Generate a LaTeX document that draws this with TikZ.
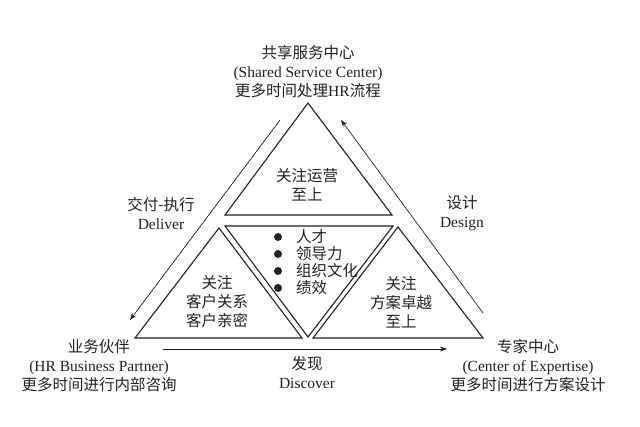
\documentclass[tikz,border=0pt]{standalone}
\usepackage{fontspec}
\setmainfont{Liberation Serif}
\newfontfamily\cjk{Noto Sans CJK SC}
\usetikzlibrary{arrows.meta}
\definecolor{ink}{HTML}{222222}
\begin{document}
\begin{tikzpicture}[x=1pt,y=-1pt,
  tri/.style={draw=ink,line width=1.1pt,line join=miter},
  arr/.style={draw=ink,line width=0.7pt,-{Stealth[length=7pt,width=5pt]}},
  lbl/.style={font=\fontsize{15.5}{19}\selectfont,align=center,inner sep=0pt,text=ink},
  bul/.style={circle,fill=ink,inner sep=0pt,minimum size=8pt},
  btxt/.style={font=\fontsize{15.5}{19}\selectfont\cjk,anchor=west,inner sep=0pt,text=ink}]
\useasboundingbox (0,0) rectangle (640,427);
\fill[white] (0,0) rectangle (640,427);

% triangles
\draw[tri] (308,103) -- (392,215) -- (225,215) -- cycle;
\draw[tri] (219,228) -- (302,338) -- (135,338) -- cycle;
\draw[tri] (398,227) -- (483,338) -- (313,338) -- cycle;
\draw[tri] (225,226) -- (393,226) -- (308,337) -- cycle;

% arrows
\coordinate (la1) at (280,120);
\coordinate (la2) at (130,320);
\coordinate (ra1) at (483,313);
\coordinate (ra2) at (341,120);
\coordinate (ba1) at (163,349);
\coordinate (ba2) at (447,349);
\draw[arr] (la1) -- (la2);
\draw[arr] (ra1) -- (ra2);
\draw[arr] (ba1) -- (ba2);

% corner labels
\node[lbl] (ssc) at (308,72) {{\cjk 共享服务中心}\\(Shared Service Center)\\{\cjk 更多时间处理}HR{\cjk 流程}};
\node[lbl] (hrbp) at (99,366) {{\cjk 业务伙伴}\\(HR Business Partner)\\{\cjk 更多时间进行内部咨询}};
\node[lbl] (coe) at (528,366) {{\cjk 专家中心}\\(Center of Expertise)\\{\cjk 更多时间进行方案设计}};

% side labels
\node[lbl] (deliver) at (161,213) {{\cjk 交付-执行}\\Deliver};
\node[lbl] (design) at (462,213) {{\cjk 设计}\\Design};
\node[lbl] (discover) at (307,373) {{\cjk 发现}\\Discover};

% inner labels
\node[lbl] (top) at (307,185) {{\cjk 关注运营}\\{\cjk 至上}};
\node[lbl] (left) at (217,302) {{\cjk 关注}\\{\cjk 客户关系}\\{\cjk 客户亲密}};
\node[lbl] (right) at (401,302) {{\cjk 关注}\\{\cjk 方案卓越}\\{\cjk 至上}};

% bullets
\node[bul] (b1) at (278,237) {};
\node[bul] (b2) at (278,254) {};
\node[bul] (b3) at (278,271) {};
\node[bul] (b4) at (278,288) {};
\node[btxt] (t1) at (296,237) {人才};
\node[btxt] (t2) at (296,254) {领导力};
\node[btxt] (t3) at (296,271) {组织文化};
\node[btxt] (t4) at (296,288) {绩效};
\end{tikzpicture}
\end{document}
